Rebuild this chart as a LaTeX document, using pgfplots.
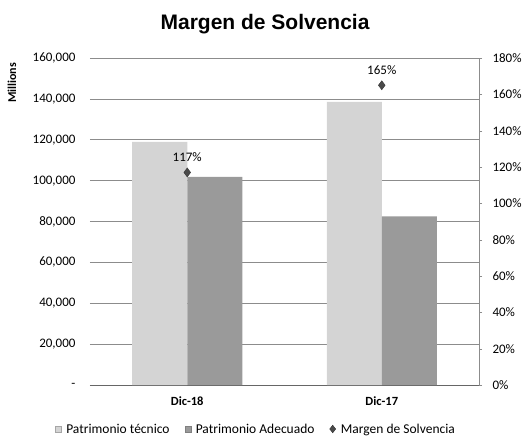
\documentclass[border=0pt]{standalone}
\usepackage{pgfplots}
\pgfplotsset{compat=1.18}
\usepackage{fontspec}
\setmainfont{Carlito}
\newfontfamily\arialfont{Liberation Sans}

\definecolor{tecnico}{HTML}{D4D4D4}
\definecolor{adecuado}{HTML}{9A9A9A}
\definecolor{margen}{HTML}{4A4A4A}
\definecolor{gridgray}{HTML}{8C8C8C}

\begin{document}
\begin{tikzpicture}
\pgfplotsset{
    every axis/.append style={
        scale only axis,
        width=389pt, height=327pt,
        xmin=-0.5, xmax=1.5,
        font=\fontsize{13}{15}\selectfont,
    },
}
% bars, left axis
\begin{axis}[
    name=ax,
    clip=false,
    ybar=0pt, bar width=55pt,
    ymin=0, ymax=160000,
    scaled y ticks=false,
    ytick={0,20000,...,160000},
    yticklabels={{-},{20,000},{40,000},{60,000},{80,000},{100,000},{120,000},{140,000},{160,000}},
    yticklabel style={xshift=-11pt},
    xtick={0,1},
    xticklabels={Dic-18,Dic-17},
    xticklabel style={font=\fontsize{12.5}{15}\selectfont\bfseries, yshift=-8pt},
    major tick length=0pt,
    ymajorgrids,
    grid style={gridgray, line width=0.6pt},
    axis x line*=bottom, axis y line*=left,
    y axis line style={draw=none},
    x axis line style={black!60, line width=0.7pt},
    legend style={at={(-0.098,-0.1376)}, anchor=west, draw=none, fill=none,
        legend columns=3, font=\fontsize{13.5}{15}\selectfont,
        /tikz/every even column/.append style={column sep=13pt}},
]
\addplot[draw=none, fill=tecnico,
    legend image code/.code={\fill[tecnico, draw=black!35] (0pt,-2pt) rectangle (6pt,4pt); \path (9pt,0pt);}]
    coordinates {(0,119000) (1,138500)};
\addplot[draw=none, fill=adecuado,
    legend image code/.code={\fill[adecuado, draw=black!50] (0pt,-2pt) rectangle (6pt,4pt); \path (9pt,0pt);}]
    coordinates {(0,101800) (1,82500)};
\addlegendimage{legend image code/.code={\filldraw[fill=margen, draw=black!80] (0pt,1pt) -- (3pt,4.8pt) -- (6pt,1pt) -- (3pt,-2.8pt) -- cycle; \path (9pt,0pt);}}
\legend{Patrimonio técnico, Patrimonio Adecuado, Margen de Solvencia}

\node[font=\arialfont\bfseries\fontsize{21}{25}\selectfont] at (rel axis cs:0.45,1.105) {Margen de Solvencia};
\node[rotate=90, font=\fontsize{12}{14}\selectfont\bfseries] at (rel axis cs:-0.2005,0.924) {Millions};
\end{axis}

% margin, right axis
\begin{axis}[
    axis y line*=right, axis x line=none,
    ymin=0, ymax=180,
    xtick=\empty,
    ytick={0,20,...,180},
    yticklabels={0\%,20\%,40\%,60\%,80\%,100\%,120\%,140\%,160\%,180\%},
    yticklabel style={xshift=7pt},
    y axis line style={gridgray, line width=0.6pt},
    ytick style={gridgray},
    major tick length=3pt, tick align=outside,
    nodes near coords, point meta=explicit symbolic,
    every node near coord/.append style={anchor=south, yshift=7pt, font=\fontsize{13}{15}\selectfont},
]
\addplot[only marks, mark=diamond*, mark size=4.5pt, mark options={fill=margen, draw=black!80}]
    coordinates {(0,117)[117\%] (1,165)[165\%]};
\end{axis}

\path (ax.south west) ++(-90pt,-55pt) rectangle ++(526pt,440pt);
\end{tikzpicture}
\end{document}
